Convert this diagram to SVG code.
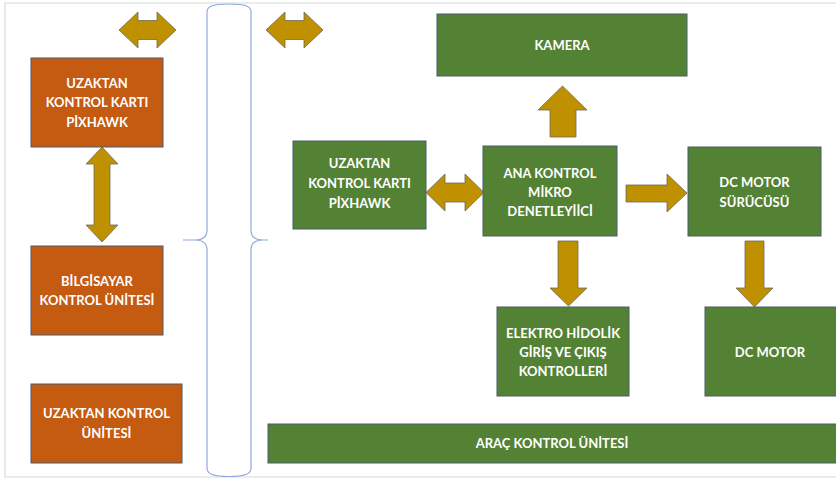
<svg xmlns="http://www.w3.org/2000/svg" width="836" height="478" viewBox="0 0 836 478">
<style>
.org{fill:#C55A11;stroke:#4a5a70;stroke-width:1}
.grn{fill:#548235;stroke:#4a5a70;stroke-width:1}
.arr{fill:#BF9000;stroke:#6f6a5a;stroke-width:0.8}
.t{font-family:Lato,"Open Sans","Liberation Sans",sans-serif;font-weight:bold;font-size:13px;fill:#ffffff;text-anchor:middle}
.frame{fill:none;stroke:#d9d9d9;stroke-width:1.2}
.brace{fill:#ffffff;stroke:#8faadc;stroke-width:1.2}
</style>
<rect width="836" height="478" fill="#ffffff"/>
<path class="frame" d="M836,3 L5,3 L5,477 L836,477"/>
<g id="bus">
<path class="brace" d="M229,4 C213,4 207,6 207,12 L207,230 C207,237 203,240 195,240 L183,240 L195,240 C203,240 207,243 207,250 L207,468 C207,474 213,476.5 229,476.5 C245,476.5 251,474 251,468 L251,250 C251,243 255,240 263,240 L268,240 L263,240 C255,240 251,237 251,230 L251,12 C251,6 245,4 229,4 Z"/>
</g>
<g id="connectors">
<polygon class="arr" points="119,30 138,12 138,20.5 157,20.5 157,12 176,30 157,48 157,39.5 138,39.5 138,48"/>
<polygon class="arr" points="266,30 285,12 285,20.5 304,20.5 304,12 323,30 304,48 304,39.5 285,39.5 285,48"/>
<polygon class="arr" points="102,147 118,164 110,164 110,225 118,225 102,242 86,225 94,225 94,164 86,164"/>
<polygon class="arr" points="426,192.5 445,174 445,183 465,183 465,174 484,192.5 465,211 465,202 445,202 445,211"/>
<polygon class="arr" points="562.5,86 587,110 576,110 576,137 550,137 550,110 538,110"/>
<polygon class="arr" points="626,185 667,185 667,174 687,193 667,212 667,202 626,202"/>
<polygon class="arr" points="558,241 578,241 578,288 587,288 568.5,306 550,288 558,288"/>
<polygon class="arr" points="745,241 764,241 764,288 773,288 754.5,307 736,288 745,288"/>
</g>
<g id="pixhawk-left">
<rect class="org" x="31" y="58" width="132" height="89"/>
<text class="t" x="97" y="88">UZAKTAN</text>
<text class="t" x="97" y="107">KONTROL KARTI</text>
<text class="t" x="97" y="127">PİXHAWK</text>
</g>
<g id="bilgisayar">
<rect class="org" x="31" y="246" width="132" height="89"/>
<text class="t" x="97" y="286">BİLGİSAYAR</text>
<text class="t" x="97" y="305">KONTROL ÜNİTESİ</text>
</g>
<g id="uzaktan-unite">
<rect class="org" x="31" y="384" width="151" height="79"/>
<text class="t" x="106.5" y="418">UZAKTAN KONTROL</text>
<text class="t" x="106.5" y="438">ÜNİTESİ</text>
</g>
<g id="kamera">
<rect class="grn" x="437" y="14" width="250" height="62"/>
<text class="t" x="562" y="50">KAMERA</text>
</g>
<g id="pixhawk-right">
<rect class="grn" x="293" y="141" width="133" height="88"/>
<text class="t" x="359.5" y="168">UZAKTAN</text>
<text class="t" x="359.5" y="188">KONTROL KARTI</text>
<text class="t" x="359.5" y="208">PİXHAWK</text>
</g>
<g id="ana-kontrol">
<rect class="grn" x="483" y="146" width="134" height="90"/>
<text class="t" x="550" y="178">ANA KONTROL</text>
<text class="t" x="550" y="197">MİKRO</text>
<text class="t" x="550" y="216">DENETLEYİİCİ</text>
</g>
<g id="dc-surucu">
<rect class="grn" x="688" y="147" width="133" height="89"/>
<text class="t" x="754.5" y="187">DC MOTOR</text>
<text class="t" x="754.5" y="207">SÜRÜCÜSÜ</text>
</g>
<g id="elektro">
<rect class="grn" x="497" y="307" width="132" height="89"/>
<text class="t" x="563" y="338">ELEKTRO HİDOLİK</text>
<text class="t" x="563" y="357">GİRİŞ VE ÇIKIŞ</text>
<text class="t" x="563" y="376">KONTROLLERİ</text>
</g>
<g id="dc-motor">
<rect class="grn" x="705" y="307" width="135" height="89"/>
<text class="t" x="770" y="357">DC MOTOR</text>
</g>
<g id="arac">
<rect class="grn" x="268" y="424" width="572" height="39"/>
<text class="t" x="552" y="448">ARAÇ KONTROL ÜNİTESİ</text>
</g>
</svg>
